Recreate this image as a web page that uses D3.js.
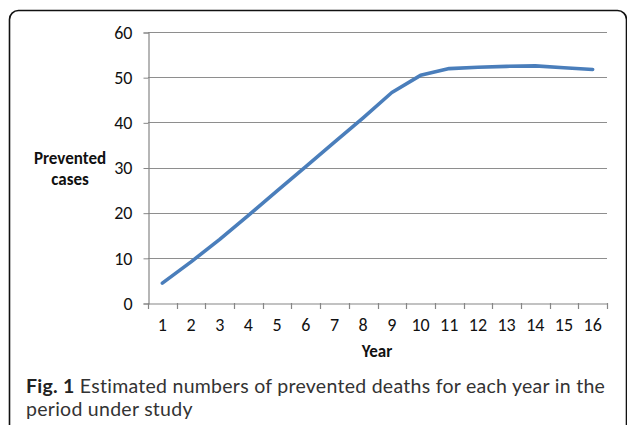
<!DOCTYPE html>
<html><head><meta charset="utf-8">
<script src="https://cdn.jsdelivr.net/npm/d3@7"></script>
<style>body{margin:0;background:#fff;}svg{display:block;}</style>
</head><body>
<svg id="c" width="627" height="425"></svg>
<script>
const years = ["1","2","3","4","5","6","7","8","9","10","11","12","13","14","15","16"];
const prevented = [4.4, 9.1, 14.1, 19.4, 24.8, 30.2, 35.6, 41.0, 46.6, 50.4, 51.9, 52.2, 52.4, 52.5, 52.1, 51.7];
const yTicks = [0, 10, 20, 30, 40, 50, 60];
const yTitle = ["Prevented", "cases"];
const xTitle = "Year";
const captionBold = "Fig. 1";
const captionLines = [" Estimated numbers of prevented deaths for each year in the", "period under study"];

(function () {
const svg = d3.select("#c");
const pLeft = 148, pRight = 607, pTop = 32, pBottom = 303;
const x = d3.scaleBand().domain(years).range([pLeft, pRight]);
const y = d3.scaleLinear().domain([0, 60]).range([pBottom, pTop]);
const font = "Carlito, 'Open Sans', 'Liberation Sans', sans-serif";
const capFont = "Lato, 'Open Sans', sans-serif";

// frame
svg.append("rect").attr("x", 9.5).attr("y", 10.5).attr("width", 617).attr("height", 460)
  .attr("rx", 9).attr("fill", "none").attr("stroke", "#111").attr("stroke-width", 1.6);

// gridlines
svg.append("g").selectAll("line").data(yTicks.filter(d => d > 0)).join("line")
  .attr("x1", pLeft).attr("x2", pRight).attr("y1", d => Math.round(y(d)) + 0.5).attr("y2", d => Math.round(y(d)) + 0.5)
  .attr("stroke", "#8e8e8e").attr("stroke-width", 1.2);

// y axis
const ya = svg.append("g").attr("transform", `translate(${pLeft + 0.5},0.5)`)
  .call(d3.axisLeft(y).tickValues(yTicks).tickSize(5).tickPadding(11));
ya.select(".domain").attr("stroke", "#868686").attr("stroke-width", 1.2);
ya.selectAll(".tick line").attr("stroke", "#868686");
ya.selectAll("text").attr("font-family", font).attr("font-size", 18).attr("fill", "#111");

// x axis
const xa = svg.append("g").attr("transform", `translate(0,${pBottom + 0.5})`)
  .call(d3.axisBottom(x).tickSize(0).tickPadding(15));
xa.select(".domain").attr("stroke", "#868686").attr("stroke-width", 1.2);
xa.selectAll("text").attr("font-family", font).attr("font-size", 18).attr("fill", "#111");
const bounds = years.map(d => x(d)).concat([pRight]);
svg.append("g").selectAll("line").data(bounds).join("line")
  .attr("x1", d => Math.round(d) + 0.5).attr("x2", d => Math.round(d) + 0.5)
  .attr("y1", pBottom).attr("y2", pBottom + 6)
  .attr("stroke", "#868686").attr("stroke-width", 1.2);

// line
const line = d3.line().x((d, i) => x(years[i]) + x.bandwidth() / 2).y(d => y(d));
svg.append("path").datum(prevented).attr("d", line).attr("fill", "none")
  .attr("stroke", "#4a7ebb").attr("stroke-width", 3.6).attr("stroke-linejoin", "round").attr("stroke-linecap", "round");

// axis titles
svg.append("text").attr("font-family", font).attr("font-size", 17).attr("font-weight", "bold")
  .attr("text-anchor", "middle").attr("fill", "#111")
  .selectAll("tspan").data(yTitle).join("tspan").attr("x", 70).attr("y", (d, i) => 164 + i * 21).text(d => d);
svg.append("text").attr("x", 377).attr("y", 357).attr("font-family", font).attr("font-size", 17)
  .attr("font-weight", "bold").attr("text-anchor", "middle").attr("fill", "#111").text(xTitle);

// caption
const cap = svg.append("text").attr("x", 26).attr("y", 393).attr("font-family", capFont)
  .attr("font-size", 19.5).attr("letter-spacing", 0.27).attr("fill", "#333");
cap.append("tspan").attr("font-weight", "bold").attr("fill", "#222").text(captionBold);
cap.append("tspan").text(captionLines[0]);
svg.append("text").attr("x", 26).attr("y", 416).attr("font-family", capFont)
  .attr("font-size", 19.5).attr("letter-spacing", 0.27).attr("fill", "#333").text(captionLines[1]);
})();
</script>
</body></html>
